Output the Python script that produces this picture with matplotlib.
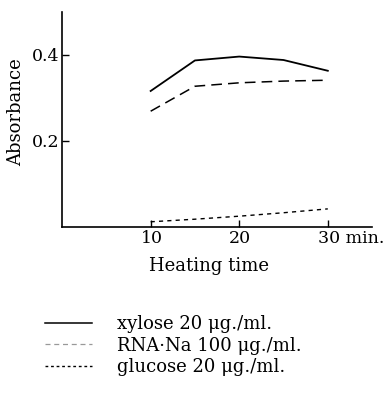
import matplotlib.pyplot as plt
from matplotlib.lines import Line2D
from matplotlib.transforms import ScaledTranslation

plt.rcParams['font.family'] = ['DejaVu Serif']

# heating time (min.) and absorbance values
time = [10, 15, 20, 25, 30]
xylose = [0.316, 0.387, 0.396, 0.388, 0.363]
rna_na = [0.269, 0.327, 0.335, 0.339, 0.341]
glucose = [0.012, 0.018, 0.025, 0.033, 0.042]

x_ticks = [10, 20, 30]
x_tick_labels = ['10', '20', '30 min.']
y_ticks = [0.2, 0.4]
y_tick_labels = ['0.2', '0.4']
labels = ['xylose 20 μg./ml.', 'RNA·Na 100 μg./ml.', 'glucose 20 μg./ml.']

fig = plt.figure(figsize=(3.88, 3.94), dpi=100, facecolor='w')
ax = fig.add_axes([0.160, 0.424, 0.799, 0.546])

ax.plot(time, xylose, color='black', lw=1.3, linestyle='-')
ax.plot(time, rna_na, color='black', lw=1.1, linestyle=(0, (7, 4)))
ax.plot(time, glucose, color='black', lw=1.0, linestyle=(0, (3, 3)))

ax.set_xlim(0, 35)
ax.set_ylim(0, 0.5)
ax.spines['top'].set_visible(False)
ax.spines['right'].set_visible(False)
ax.spines['left'].set_linewidth(1.2)
ax.spines['bottom'].set_linewidth(1.2)
ax.set_xticks(x_ticks)
ax.set_xticklabels(x_tick_labels)
ax.set_yticks(y_ticks)
ax.set_yticklabels(y_tick_labels)
ax.tick_params(direction='in', length=5, width=1, labelsize=12.5, pad=2)

# left-align x labels, shifted so the numbers sit centred on the ticks
offset = ScaledTranslation(-10 / 100, 0, fig.dpi_scale_trans)
for lbl in ax.get_xticklabels():
    lbl.set_horizontalalignment('left')
    lbl.set_transform(lbl.get_transform() + offset)

fig.text(0.539, 0.325, 'Heating time', ha='center', va='center', fontsize=13)
fig.text(0.042, 0.715, 'Absorbance', ha='center', va='center',
         rotation=90, fontsize=13)

handles = [
    Line2D([], [], color='black', lw=1.1, linestyle='-'),
    Line2D([], [], color='#999999', lw=0.9, linestyle=(0, (4, 3))),
    Line2D([], [], color='black', lw=1.0, linestyle=(0, (2, 2))),
]
fig.legend(handles, labels, loc='upper left', bbox_to_anchor=(0.115, 0.200),
           frameon=False, fontsize=13, handlelength=2.6, handletextpad=1.4,
           labelspacing=0.2, borderaxespad=0, borderpad=0)

fig.savefig('out.png', dpi=100)
